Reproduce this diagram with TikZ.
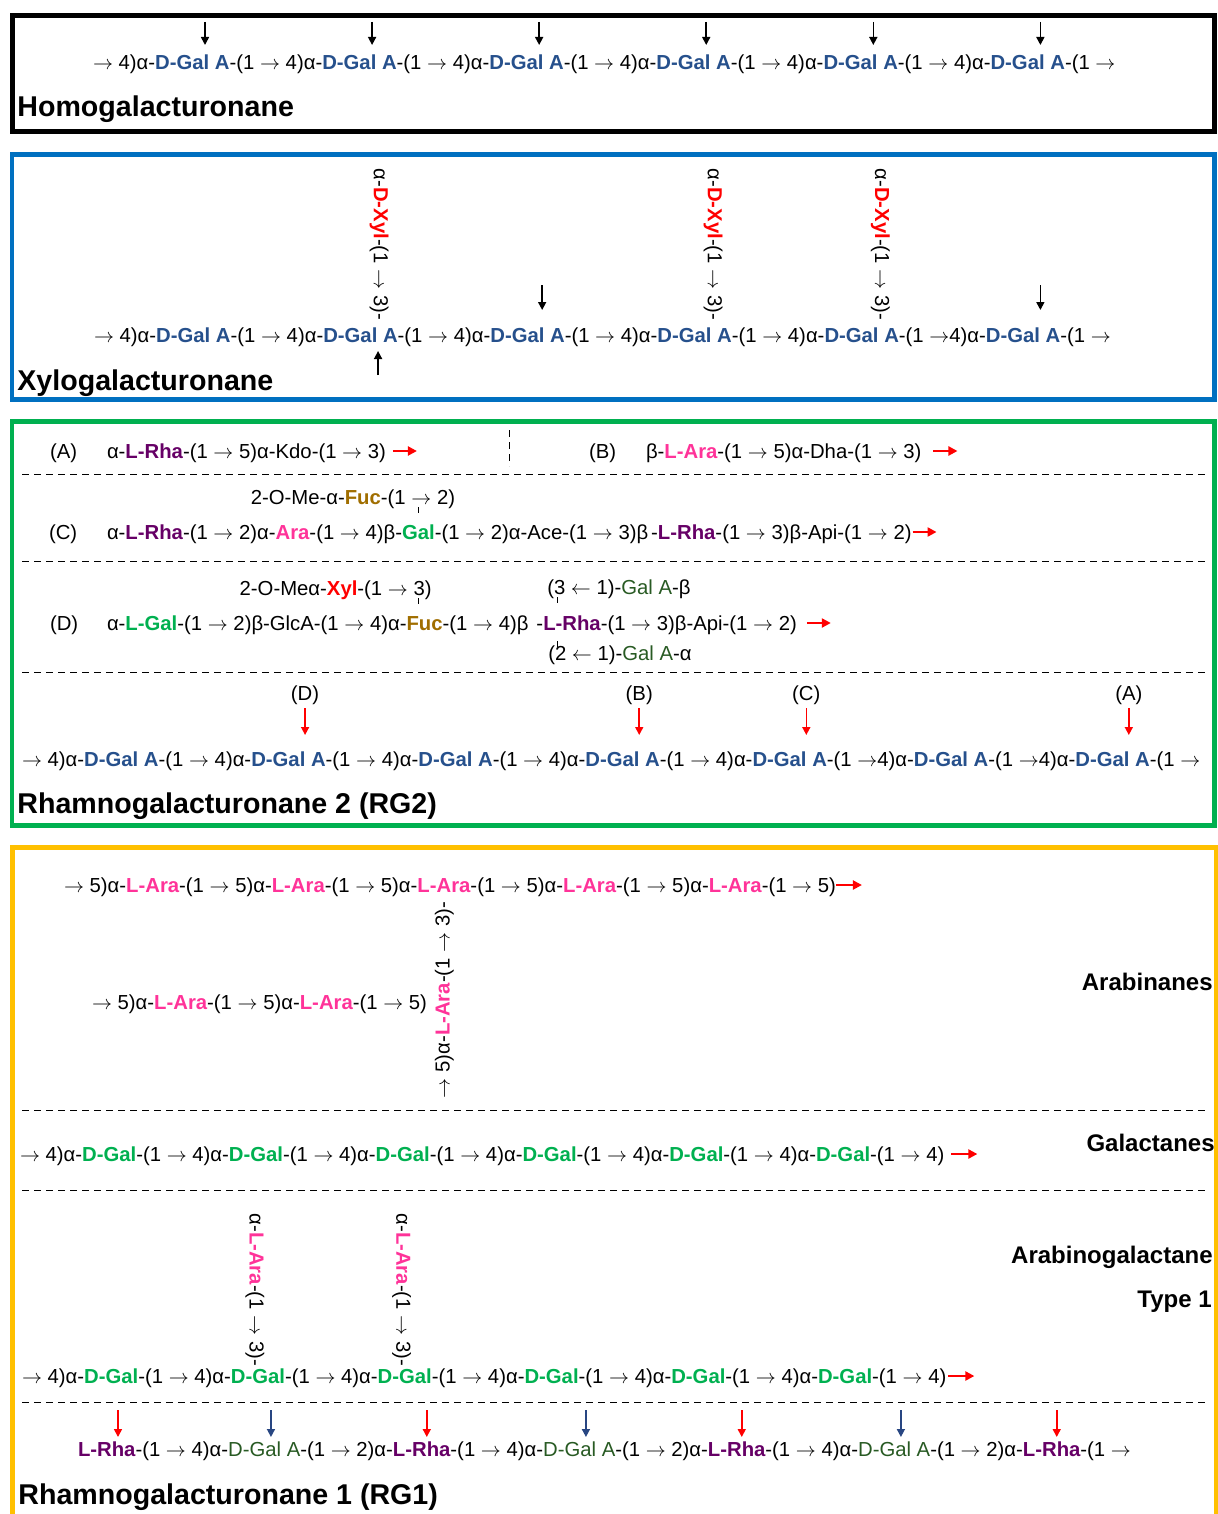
\documentclass[tikz,border=0pt]{standalone}
\usepackage{fontspec}
\setmainfont{Liberation Sans}
\usetikzlibrary{arrows.meta,positioning}

\definecolor{galA}{RGB}{38,80,140}
\definecolor{galV}{RGB}{0,176,80}
\definecolor{galAo}{RGB}{40,90,35}
\definecolor{rha}{RGB}{102,0,102}
\definecolor{ara}{RGB}{255,51,153}
\definecolor{xyl}{RGB}{255,0,0}
\definecolor{fuc}{RGB}{160,110,0}
\definecolor{azul}{RGB}{0,112,192}
\definecolor{verde}{RGB}{0,176,80}
\definecolor{oro}{RGB}{255,192,0}
\definecolor{azulosc}{RGB}{40,70,130}

\newcommand\chainfont{\fontsize{10.15}{12}\selectfont}
\newcommand\esp{\kern2.82pt}
\newcommand\lnk[2][2.82pt]{$\rightarrow$\hspace{#1}#2)}
\newcommand\GalA{\textcolor{galA}{\bfseries D-Gal A}}
\newcommand\GalAd{\textcolor{galAo}{D-Gal A}}
\newcommand\GalAs{\textcolor{galAo}{Gal A}}
\newcommand\Gal{\textcolor{galV}{\bfseries D-Gal}}
\newcommand\GalS{\textcolor{galV}{\bfseries Gal}}
\newcommand\LGal{\textcolor{galV}{\bfseries L-Gal}}
\newcommand\Rha{\textcolor{rha}{\bfseries L-Rha}}
\newcommand\Ara{\textcolor{ara}{\bfseries L-Ara}}
\newcommand\AraS{\textcolor{ara}{\bfseries Ara}}
\newcommand\Xyl{\textcolor{xyl}{\bfseries D-Xyl}}
\newcommand\XylS{\textcolor{xyl}{\bfseries Xyl}}
\newcommand\Fuc{\textcolor{fuc}{\bfseries Fuc}}

\tikzset{
  txt/.style={inner sep=0pt, outer sep=0pt, anchor=base west, font=\chainfont},
  titulo/.style={inner sep=0pt, anchor=base west, font=\fontsize{14.3}{16}\selectfont\bfseries},
  etiq/.style={inner sep=0pt, anchor=base east, font=\fontsize{12}{14}\selectfont\bfseries},
  cut/.style={line width=0.8pt, -{Triangle[width=4pt,length=4pt]}},
  redarr/.style={red, line width=1.1pt, -{Triangle[width=4.5pt,length=4.5pt]}},
  sep/.style={line width=0.5pt, dash pattern=on 3.4pt off 2.6pt},
  tick/.style={line width=0.6pt}
}

\begin{document}
\begin{tikzpicture}[x=0.5pt,y=-0.5pt]
\useasboundingbox (0,0) rectangle (1218,1514);

% Marcos
\draw[line width=2.5pt] (12.5,15.5) rectangle (1214,131.5);
\draw[azul, line width=2.2pt] (12,154.5) rectangle (1214.5,399.5);
\draw[verde, line width=2.2pt] (12,421.5) rectangle (1214.5,825.5);
\draw[oro, line width=2.5pt] (12,1530) |- (1216.5,847.5) -- (1216.5,1530);
\foreach \y in {474,561,672,1110,1190,1402}
  \draw[sep] (22,\y) -- (1206,\y);

% Homogalacturonane
\node[txt] (hg0) at (91,70) {};
\foreach \i [remember=\i as \j (initially 0)] in {1,...,6}
  \node[txt] (hg\i) at (hg\j.base east) {\lnk{4}α-\GalA-(1\esp};
\node[txt] (hgf) at (hg6.base east) {$\rightarrow$};
\foreach \i in {1,...,6}
  \draw[cut] ([shift={(112,-48)}]hg\i.base west) -- ([shift={(112,-25)}]hg\i.base west);
\node[titulo] (thg) at (17,117) {Homogalacturonane};

% Xylogalacturonane
\node[txt] (xg0) at (92,342) {};
\foreach \i/\g [remember=\i as \j (initially 0)] in {1/2.82,2/2.82,3/2.82,4/2.82,5/2.82,6/0}
  \node[txt] (xg\i) at (xg\j.base east) {\lnk[\g pt]{4}α-\GalA-(1\esp};
\node[txt] (xgf) at (xg6.base east) {$\rightarrow$};
\foreach \i in {2,4,5}
  \node[txt, rotate=-90, anchor=east] (xyl\i) at ([shift={(118,-22)}]xg\i.base west) {α-\Xyl-(1 \lnk{3}-};
\foreach \i/\d in {3/114,6/111}
  \draw[cut] ([shift={(\d,-57)}]xg\i.base west) -- ([shift={(\d,-32)}]xg\i.base west);
\draw[cut] ([shift={(117,33)}]xg2.base west) -- ([shift={(117,9)}]xg2.base west);
\node[titulo] (txg) at (17,390) {Xylogalacturonane};

% Cadenas laterales (A) y (B)
\node[txt] (pA) at (50,458) {(A)};
\node[txt] (rA) at (107,458) {α-\Rha-(1 \lnk{5}α-Kdo-(1 \lnk{3}};
\draw[redarr] ([shift={(7,-7)}]rA.base east) -- ++(24,0);
\draw[sep] (509,430) -- (509,466);
\node[txt] (pB) at (589,458) {(B)};
\node[txt] (rB) at (646,458) {β-\Ara-(1 \lnk{5}α-Dha-(1 \lnk{3}};
\draw[redarr] ([shift={(12,-7)}]rB.base east) -- ++(24,0);

% Cadena lateral (C)
\node[txt] (pC) at (49,539) {(C)};
\node[txt] (cA) at (107,539) {α-\Rha-(1 \lnk{2}α-\AraS-(1 \lnk{4}β-};
\node[txt] (cG) at (cA.base east) {\GalS};
\node[txt] (cB) at (cG.base east) {-(1 \lnk{2}α-Ace-(1 \lnk{3}β\kern1.5pt-\Rha-(1 \lnk{3}β-Api-(1 \lnk{2}};
\draw[redarr] ([shift={(1,-7)}]cB.base east) -- ++(24,0);
\node[txt, anchor=base east] (cS) at ([shift={(53,-35)}]cG.base west) {2-O-Me-α-\Fuc-(1 \lnk{2}};
\draw[tick] (cS.base -| cG) ++(0,3) -- ++(0,6);

% Cadena lateral (D)
\node[txt] (pD) at (50,630) {(D)};
\node[txt] (dA) at (107,630) {α-\LGal-(1 \lnk{2}β-GlcA-(1 \lnk{4}α-};
\node[txt] (dF) at (dA.base east) {\Fuc};
\node[txt] (dB) at (dF.base east) {-(1 \lnk{4}β\kern4pt-};
\node[txt] (dR) at (dB.base east) {\Rha};
\node[txt] (dC) at (dR.base east) {-(1 \lnk{3}β-Api-(1 \lnk{2}};
\draw[redarr] ([shift={(10,-7)}]dC.base east) -- ++(24,0);
\node[txt, anchor=base east] (dX) at ([shift={(25,-35)}]dF.base west) {2-O-Meα-\XylS-(1 \lnk{3}};
\node[txt] (d3) at ([shift={(4,-36)}]dR.base west) {(3 $\leftarrow$ 1)-\GalAs-β};
\node[txt] (d2) at ([shift={(5,30)}]dR.base west) {(2 $\leftarrow$ 1)-\GalAs-α};
\draw[tick] (dX.base -| dF.west) ++(12,3) -- ++(0,6);
\draw[tick] (d3.base -| dR.west) ++(14,3) -- ++(0,6);
\draw[tick] (dR.base west) ++(14,11) -- ++(0,6);

% Rhamnogalacturonane 2
\node[txt] (rg0) at (20,766) {};
\foreach \i/\g [remember=\i as \j (initially 0)] in {1/2.82,2/2.82,3/2.82,4/2.82,5/2.82,6/0,7/0}
  \node[txt] (rg\i) at (rg\j.base east) {\lnk[\g pt]{4}α-\GalA-(1\esp};
\node[txt] (rgf) at (rg7.base east) {$\rightarrow$};
\foreach \lab/\i/\d in {D/2/116,B/4/116,C/5/116,A/7/110} {
  \node[txt, anchor=base] (el\lab) at ([shift={(\d,-66)}]rg\i.base west) {(\lab)};
  \draw[cut, red] ([yshift=-2pt]el\lab.south) -- ([shift={(\d,-31)}]rg\i.base west);
}
\node[titulo] (trg2) at (17,813) {Rhamnogalacturonane 2 (RG2)};

% Arabinanes
\node[txt] (at0) at (62,892) {};
\foreach \i [remember=\i as \j (initially 0)] in {1,...,5}
  \node[txt] (at\i) at (at\j.base east) {\lnk{5}α-\Ara-(1\esp};
\node[txt] (atf) at (at5.base east) {\lnk{5}};
\draw[redarr] ([shift={(0,-7)}]atf.base east) -- ++(26,0);
\node[txt, rotate=90, anchor=east] (arav) at ([shift={(89,10)}]at3.base west) {\lnk{5}α-\Ara-(1 \lnk{3}-};
\node[txt] (ab0) at (90,1009) {};
\foreach \i [remember=\i as \j (initially 0)] in {1,2}
  \node[txt] (ab\i) at (ab\j.base east) {\lnk{5}α-\Ara-(1\esp};
\node[txt] (abf) at (ab2.base east) {\lnk{5}};
\node[etiq] (tar) at (1213,990) {Arabinanes};

% Galactanes
\node[txt] (ga0) at (18,1161) {};
\foreach \i [remember=\i as \j (initially 0)] in {1,...,6}
  \node[txt] (ga\i) at (ga\j.base east) {\lnk{4}α-\Gal-(1\esp};
\node[txt] (gaf) at (ga6.base east) {\lnk{4}};
\draw[redarr] ([shift={(7,-7)}]gaf.base east) -- ++(26,0);
\node[etiq] (tga) at (1215,1151) {Galactanes};

% Arabinogalactane type 1
\node[txt] (ag0) at (20,1383) {};
\foreach \i [remember=\i as \j (initially 0)] in {1,...,6}
  \node[txt] (ag\i) at (ag\j.base east) {\lnk{4}α-\Gal-(1\esp};
\node[txt] (agf) at (ag6.base east) {\lnk{4}};
\draw[redarr] ([shift={(2,-7)}]agf.base east) -- ++(26,0);
\foreach \i in {2,3}
  \node[txt, rotate=-90, anchor=east] (agv\i) at ([shift={(86,-17)}]ag\i.base west) {α-\Ara-(1 \lnk{3}-};
\node[etiq] (tag) at (1213,1263) {Arabinogalactane};
\node[etiq] (tag2) at (1212,1307) {Type 1};

% Rhamnogalacturonane 1
\node[txt] (rr1) at (78,1456) {\Rha-(1\esp};
\foreach \i [remember=\i as \j (initially 1)] in {2,3,4} {
  \node[txt] (rq\j) at (rr\j.base east) {\lnk{4}α-\GalAd-(1\esp};
  \node[txt] (rr\i) at (rq\j.base east) {\lnk{2}α-\Rha-(1\esp};
}
\node[txt] (rrf) at (rr4.base east) {$\rightarrow$};
\draw[cut, red] ([shift={(40,-46)}]rr1.base west) -- ([shift={(40,-19)}]rr1.base west);
\foreach \i in {2,3,4}
  \draw[cut, red] ([shift={(96,-46)}]rr\i.base west) -- ([shift={(96,-19)}]rr\i.base west);
\foreach \i in {1,2,3}
  \draw[cut, azulosc] ([shift={(105,-46)}]rq\i.base west) -- ([shift={(105,-19)}]rq\i.base west);
\node[titulo] (trg1) at (18,1504) {Rhamnogalacturonane 1 (RG1)};
\end{tikzpicture}
\end{document}
